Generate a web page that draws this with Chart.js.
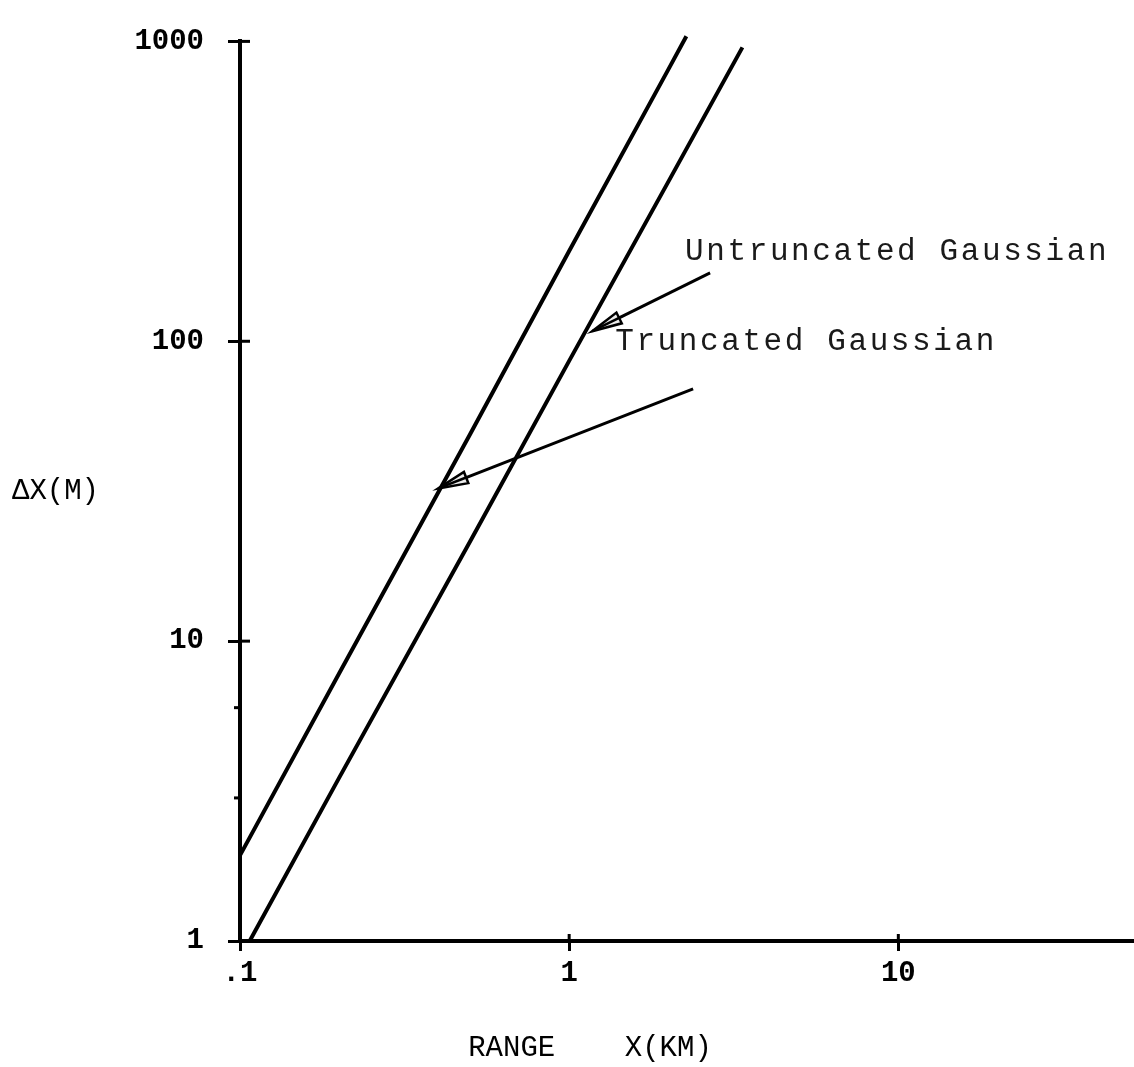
<!DOCTYPE html>
<html><head><meta charset="utf-8">
<script src="https://cdn.jsdelivr.net/npm/chart.js@4.4.1/dist/chart.umd.min.js"></script>
<style>html,body{margin:0;padding:0;background:#fff}</style>
</head><body>
<canvas id="c" width="1134" height="1067" style="display:block;width:1134px;height:1067px"></canvas>
<script>
// ---- data ----
const xTickValues = [0.1, 1, 10];
const xTickLabels = ['.1', '1', '10'];
const yTickValues = [1, 10, 100, 1000];
const yTickLabels = ['1', '10', '100', '1000'];
const yMinorTicks = [3, 6];

const truncatedX = [0.1, 0.2, 0.5, 1, 2, 2.27];
const truncatedY = [1.93, 7.8, 49, 200, 805, 1040];
const untruncatedX = [0.107, 0.2, 0.5, 1, 2, 3.36];
const untruncatedY = [1, 3.5, 21.5, 86, 340, 955];

const noteTexts = ['Untruncated Gaussian', 'Truncated Gaussian'];
const noteTextX = [2.25, 1.38];
const noteTextY = [187, 93.6];
const arrowTailX = [2.68, 2.38];
const arrowTailY = [169, 69.4];
const arrowTipX = [1.175, 0.40];
const arrowTipY = [108, 32.3];

const xTitle = 'RANGE    X(KM)';
const yTitle = 'ΔX(M)';

const X_MIN = 0.1, X_MAX = 52, Y_MIN = 1, Y_MAX = 1000;

const toPts = (xs, ys) => xs.map((x, i) => ({x: x, y: ys[i]}));

const FONT = 'Liberation Mono';

const decor = {
  id: 'decor',
  afterDraw(chart) {
    const ctx = chart.ctx;
    const xs = chart.scales.x, ys = chart.scales.y;
    const ca = chart.chartArea;
    ctx.save();
    ctx.strokeStyle = '#000';
    ctx.fillStyle = '#000';
    // inner halves of major ticks (crossing style)
    ctx.lineWidth = 3;
    yTickValues.forEach(v => {
      if (v === Y_MIN) return;
      const py = ys.getPixelForValue(v);
      ctx.beginPath();
      ctx.moveTo(ca.left, py);
      ctx.lineTo(ca.left + 10, py);
      ctx.stroke();
    });
    xTickValues.forEach(v => {
      if (v === X_MIN) return;
      const px = xs.getPixelForValue(v);
      ctx.beginPath();
      ctx.moveTo(px, ca.bottom);
      ctx.lineTo(px, ca.bottom - 7);
      ctx.stroke();
    });
    // minor y ticks
    ctx.lineWidth = 3;
    yMinorTicks.forEach(v => {
      const py = ys.getPixelForValue(v);
      ctx.beginPath();
      ctx.moveTo(ca.left - 6, py);
      ctx.lineTo(ca.left, py);
      ctx.stroke();
    });
    // arrows
    for (let i = 0; i < noteTexts.length; i++) {
      const tx = xs.getPixelForValue(arrowTailX[i]), ty = ys.getPixelForValue(arrowTailY[i]);
      const hx = xs.getPixelForValue(arrowTipX[i]), hy = ys.getPixelForValue(arrowTipY[i]);
      const ang = Math.atan2(ty - hy, tx - hx);
      const L = 30, W = 6;
      const bx = hx + Math.cos(ang) * L, by = hy + Math.sin(ang) * L;
      ctx.lineWidth = 3;
      ctx.beginPath();
      ctx.moveTo(tx, ty);
      ctx.lineTo(bx, by);
      ctx.stroke();
      ctx.lineWidth = 2.5;
      ctx.beginPath();
      ctx.moveTo(hx, hy);
      ctx.lineTo(bx + Math.cos(ang + Math.PI / 2) * W, by + Math.sin(ang + Math.PI / 2) * W);
      ctx.lineTo(bx + Math.cos(ang - Math.PI / 2) * W, by + Math.sin(ang - Math.PI / 2) * W);
      ctx.closePath();
      ctx.fillStyle = '#ececec';
      ctx.fill();
      ctx.stroke();
      ctx.beginPath();
      ctx.moveTo(hx, hy);
      ctx.lineTo(bx, by);
      ctx.stroke();
    }
    // annotation texts
    ctx.fillStyle = '#1a1a1a';
    ctx.font = 'normal 31px "' + FONT + '"';
    ctx.textAlign = 'left';
    ctx.textBaseline = 'alphabetic';
    try { ctx.letterSpacing = '2.6px'; } catch (e) {}
    for (let i = 0; i < noteTexts.length; i++) {
      ctx.fillText(noteTexts[i], xs.getPixelForValue(noteTextX[i]), ys.getPixelForValue(noteTextY[i]));
    }
    try { ctx.letterSpacing = '0px'; } catch (e) {}
    // axis titles (horizontal, as in the original)
    ctx.fillStyle = '#000';
    ctx.font = 'normal 29px "' + FONT + '"';
    ctx.textBaseline = 'middle';
    ctx.textAlign = 'left';
    ctx.fillText(yTitle, 12, (ca.top + ca.bottom) / 2);
    ctx.textAlign = 'center';
    ctx.fillText(xTitle, ca.left + 350, ca.bottom + 107);
    ctx.restore();
  }
};

new Chart(document.getElementById('c'), {
  type: 'line',
  data: {
    datasets: [
      { label: 'Truncated Gaussian', data: toPts(truncatedX, truncatedY),
        borderColor: '#000', borderWidth: 4, pointRadius: 0, tension: 0, fill: false, clip: false },
      { label: 'Untruncated Gaussian', data: toPts(untruncatedX, untruncatedY),
        borderColor: '#000', borderWidth: 4, pointRadius: 0, tension: 0, fill: false, clip: false }
    ]
  },
  options: {
    responsive: false,
    animation: false,
    devicePixelRatio: 1,
    layout: { padding: { top: 40, right: 0, left: 0, bottom: 0 } },
    plugins: { legend: { display: false }, tooltip: { enabled: false } },
    scales: {
      x: {
        type: 'logarithmic', min: X_MIN, max: X_MAX,
        afterBuildTicks: s => { s.ticks = xTickValues.map(v => ({ value: v })); },
        afterFit: s => { s.height = 126; },
        grid: { drawOnChartArea: false, drawTicks: true, tickLength: 10, color: '#000', lineWidth: 3 },
        border: { display: true, color: '#000', width: 4 },
        ticks: {
          autoSkip: false, maxRotation: 0, padding: 5, color: '#000',
          font: { family: FONT, weight: 'bold', size: 29 },
          callback: v => { const i = xTickValues.indexOf(v); return i >= 0 ? xTickLabels[i] : ''; }
        }
      },
      y: {
        type: 'logarithmic', min: Y_MIN, max: Y_MAX,
        afterBuildTicks: s => { s.ticks = yTickValues.map(v => ({ value: v })); },
        afterFit: s => { s.width = 240; },
        grid: { drawOnChartArea: false, drawTicks: true, tickLength: 12, color: '#000', lineWidth: 3 },
        border: { display: true, color: '#000', width: 4 },
        ticks: {
          autoSkip: false, padding: 24, color: '#000',
          font: { family: FONT, weight: 'bold', size: 29 },
          callback: v => { const i = yTickValues.indexOf(v); return i >= 0 ? yTickLabels[i] : ''; }
        }
      }
    }
  },
  plugins: [decor]
});
</script>
</body></html>
